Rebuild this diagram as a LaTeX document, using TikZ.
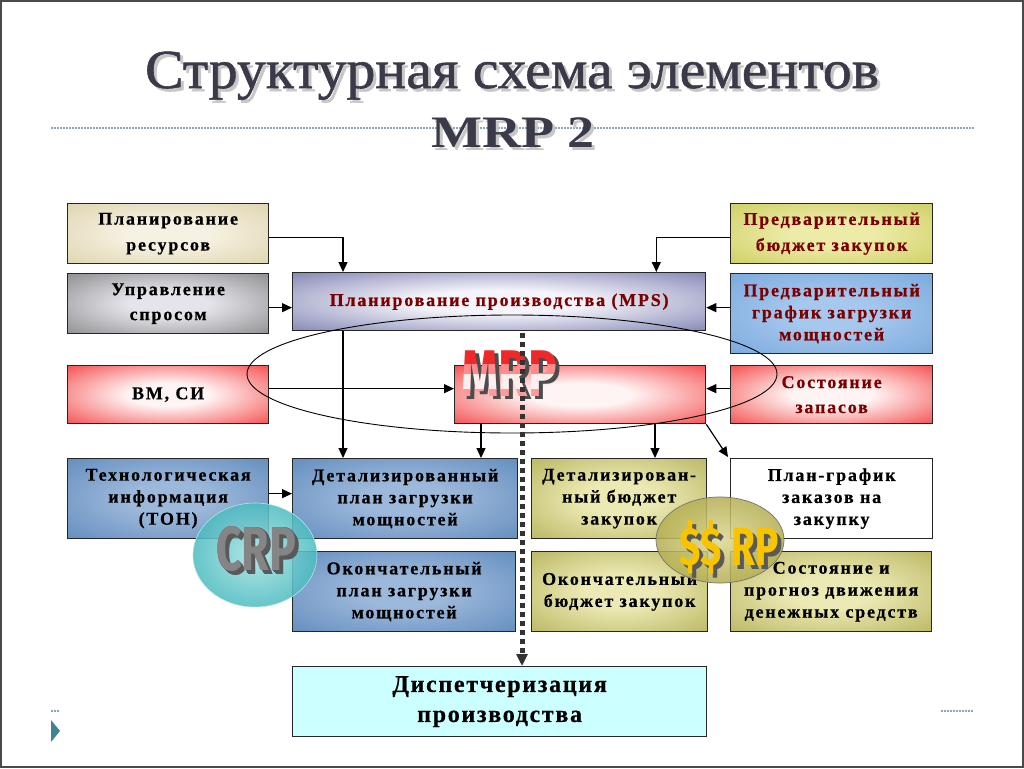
\documentclass[tikz,border=0pt]{standalone}
\usepackage{fontspec}
\setmainfont{Liberation Serif}
\newfontfamily\boxfont[LetterSpace=10,FakeBold=0.6]{Liberation Serif}
\newfontfamily\dispfont[LetterSpace=7,FakeBold=0.6]{Liberation Serif}
\newfontfamily\titlefont[FakeStretch=1.05,FakeBold=1]{Liberation Serif}
\newfontfamily\subfont[FakeStretch=1.2]{Liberation Serif}
\newfontfamily\impfont[FakeStretch=0.72]{Fira Sans}
\usetikzlibrary{arrows.meta,calc,shapes.geometric,shadings}

\definecolor{framec}{HTML}{4A4A4A}
\definecolor{titlec}{HTML}{3A3A48}
\definecolor{dotc}{HTML}{8FA8B8}
\definecolor{darkred}{HTML}{7A0000}
\definecolor{beigeO}{HTML}{D6CA9C}\definecolor{beigeI}{HTML}{F6F1E2}
\definecolor{grayO}{HTML}{6E6E70}\definecolor{grayI}{HTML}{E4E4EA}
\definecolor{mpsO}{HTML}{585C9A}\definecolor{mpsI}{HTML}{F4F4FA}
\definecolor{yelO}{HTML}{C4C44C}\definecolor{yelI}{HTML}{ECECA8}
\definecolor{lbO}{HTML}{6A9ED6}\definecolor{lbI}{HTML}{A6C8EE}
\definecolor{redO}{HTML}{F01010}\definecolor{redI}{HTML}{FFF4F4}
\definecolor{stO}{HTML}{4E7EB4}\definecolor{stI}{HTML}{9CB8DA}
\definecolor{olO}{HTML}{A8A446}\definecolor{olI}{HTML}{ECEAB4}
\definecolor{dispc}{HTML}{CCFFFF}
\definecolor{tealO}{HTML}{4CBCC0}\definecolor{tealI}{HTML}{A4E2E2}
\definecolor{olvE}{HTML}{B4AE52}\definecolor{olvI}{HTML}{DCD890}
\definecolor{goldc}{HTML}{F8C400}
\definecolor{trianc}{HTML}{3F8590}
\definecolor{mrpA}{HTML}{F02828}\definecolor{mrpB}{HTML}{FF8C8C}
\definecolor{mrpC}{HTML}{FFEEEE}\definecolor{mrpD}{HTML}{FF9A9A}

\colorlet{boxin}{white}\colorlet{boxout}{red}
\pgfdeclareradialshading[boxin,boxout]{softradial}{\pgfpoint{0bp}{0bp}}%
  {color(0bp)=(boxin); color(10bp)=(boxin); color(46bp)=(boxout); color(75bp)=(boxout)}

\tikzset{
  framebox/.style={draw=framec, line width=2pt},
  box/.style={draw=black!85, line width=1.3pt, align=center, anchor=north west,
    inner sep=2pt, font=\boxfont\bfseries\fontsize{18}{22}\selectfont},
  sh/.style 2 args={shading=softradial, /utils/exec={\colorlet{boxin}{#1}\colorlet{boxout}{#2}}},
  arr/.style={line width=1.2pt, -{Triangle[length=10pt,width=9pt]}},
  dotline/.style={dotc, line width=1.3pt, dash pattern=on 1.5pt off 1.5pt},
  bigdots/.style={black!80, line width=5pt, dash pattern=on 5pt off 4pt,
    -{Triangle[length=12pt,width=11pt]}},
  mrpfont/.style={anchor=base, font=\impfont\bfseries\fontsize{66}{66}\selectfont},
}

\begin{document}
\begin{tikzpicture}[x=1pt,y=-1pt]
\useasboundingbox (0,0) rectangle (1024,768);
\fill[white] (0,0) rectangle (1024,768);
\draw[framebox] (1,1) rectangle (1023,767);

% title
\draw[dotline] (51,128) -- (974,128);
\node[anchor=base, text=black!22, font=\titlefont\fontsize{55}{55}\selectfont] at (515,91) {Структурная схема элементов};
\node[anchor=base, text=titlec, font=\titlefont\fontsize{55}{55}\selectfont] (title1) at (512,88) {Структурная схема элементов};
\node[anchor=base, text=black!22, font=\subfont\bfseries\fontsize{45}{45}\selectfont] at (516,150) {MRP 2};
\node[anchor=base, text=titlec, font=\subfont\bfseries\fontsize{45}{45}\selectfont] (title2) at (513,147) {MRP 2};

% bottom decorations
\draw[dotline] (51,711) -- (60,711);
\draw[dotline] (941,711) -- (974,711);
\fill[trianc] (51,720) -- (60,731) -- (51,742) -- cycle;

% boxes
\node[box, sh={beigeI}{beigeO}, minimum width=201pt, minimum height=60pt] (pr) at (67,203) {Планирование\\[4pt]ресурсов};
\node[box, sh={grayI}{grayO}, minimum width=201pt, minimum height=60pt] (dem) at (67,273) {Управление\\[3pt]спросом};
\node[box, sh={mpsI}{mpsO}, minimum width=413pt, minimum height=58pt, text=darkred] (mps) at (292,272) {Планирование производства (MPS)};
\node[box, sh={yelI}{yelO}, minimum width=202pt, minimum height=60pt, text=darkred] (pb) at (730,203) {Предварительный\\[4pt]бюджет закупок};
\node[box, sh={lbI}{lbO}, minimum width=202pt, minimum height=80pt, text=darkred] (pg) at (730,273) {Предварительный\\график загрузки\\мощностей};
\node[box, sh={redI}{redO}, minimum width=201pt, minimum height=58pt] (vm) at (67,365) {ВМ, СИ};
\node[box, sh={redI}{redO}, minimum width=251pt, minimum height=58pt] (mrp) at (454,365) {};
\node[box, sh={redI}{redO}, minimum width=202pt, minimum height=58pt, text=darkred] (sz) at (730,365) {Состояние\\[3pt]запасов};
\node[box, sh={stI}{stO}, minimum width=201pt, minimum height=80pt] (ton) at (67,458) {Технологическая\\информация\\(ТОН)};
\node[box, sh={stI}{stO}, minimum width=225pt, minimum height=80pt] (dp) at (292,458) {Детализированный\\план загрузки\\мощностей};
\node[box, sh={stI}{stO}, minimum width=223pt, minimum height=80pt] (op) at (292,551) {Окончательный\\план загрузки\\мощностей};
\node[box, sh={olI}{olO}, minimum width=175pt, minimum height=80pt] (db) at (531,458) {Детализирован-\\ный бюджет\\закупок};
\node[box, fill=white, minimum width=202pt, minimum height=80pt] (pgz) at (730,458) {План-график\\заказов на\\закупку};
\node[box, sh={olI}{olO}, minimum width=176pt, minimum height=80pt] (ob) at (531,551) {Окончательный\\бюджет закупок};
\node[box, sh={olI}{olO}, minimum width=201pt, minimum height=80pt] (dds) at (730,551) {Состояние и\\прогноз движения\\денежных средств};
\node[box, fill=dispc, minimum width=414pt, minimum height=70pt, font=\dispfont\bfseries\fontsize{24}{30}\selectfont] (disp) at (292,666) {Диспетчеризация\\производства};

% connector end points
\coordinate (c1) at ($(pr.east)+(0,4)$);
\coordinate (c2) at ($(pb.west)+(0,4)$);
\coordinate (c3) at ($(dem.east)+(0,4)$);
\coordinate (c4) at ($(pg.west)+(0,-6)$);
\coordinate (c5) at ($(vm.east)+(0,-6)$);
\coordinate (c6) at ($(sz.west)+(0,-6)$);
\coordinate (c7) at ($(ton.east)+(0,-5)$);
\coordinate (m1) at ($(mps.south west)+(51,0)$);
\coordinate (r1) at ($(mrp.south west)+(27,0)$);
\coordinate (r2) at ($(mrp.south west)+(201,0)$);
\coordinate (d1) at ($(mps.south west)+(230,2)$);
\coordinate (g1) at ($(pgz.north west)+(-2,-1)$);

% connectors
\draw[arr] (c1) -| ($(mps.north west)+(51,0)$);
\draw[arr] (c2) -| ($(mps.north east)+(-50,0)$);
\draw[arr] (c3) -- (c3 -| mps.west);
\draw[arr] (c4) -- (c4 -| mps.east);
\draw[arr] (m1) -- (m1 |- dp.north);
\draw[arr] (c5) -- (c5 -| mrp.west);
\draw[arr] (c6) -- (c6 -| mrp.east);
\draw[arr] (r1) -- (r1 |- dp.north);
\draw[arr] (r2) -- (r2 |- db.north);
\draw[arr] (mrp.south east) -- (g1);
\draw[arr] (c7) -- (c7 -| dp.west);

% big ellipse
\draw[line width=0.9pt] (512,374) ellipse [x radius=265, y radius=59];

% MRP label
\node[mrpfont, text=black!70] at (513,399) {MRP};
\foreach \ya/\yb/\col in {330/364/mrpA, 364/374/mrpB, 374/389/mrpC, 389/410/mrpD}{
  \begin{scope}
    \clip (440,\ya) rectangle (580,\yb);
    \node[mrpfont, text=\col] at (509,396) {MRP};
  \end{scope}
}

% dotted main flow
\draw[bigdots] (d1) -- (d1 |- disp.north);

% CRP ellipse
\shade[inner color=tealI, outer color=tealO, fill opacity=0.85] (255,555) ellipse [x radius=62, y radius=52];
\draw[white!60!tealO, line width=0.6pt] (255,555) ellipse [x radius=62, y radius=52];
\foreach \i in {4,3.2,2.4,1.6,0.8}{
  \node[anchor=base, text=black!65, font=\impfont\bfseries\fontsize{62}{62}\selectfont] at (256+\i,570+\i) {CRP};}
\node[anchor=base, text=black!48, font=\impfont\bfseries\fontsize{62}{62}\selectfont] (crplab) at (256,570) {CRP};

% $$RP ellipse
\shade[inner color=olvI, outer color=olvE, fill opacity=0.85] (720,540) ellipse [x radius=64, y radius=43];
\draw[black!55, line width=0.7pt] (720,540) ellipse [x radius=64, y radius=43];
\node[anchor=base, text=black!65, font=\impfont\bfseries\fontsize{54}{54}\selectfont] at (733,569) {\$\$ RP};
\node[anchor=base, text=goldc, font=\impfont\bfseries\fontsize{54}{54}\selectfont] (rplab) at (729,565) {\$\$ RP};
\end{tikzpicture}
\end{document}
